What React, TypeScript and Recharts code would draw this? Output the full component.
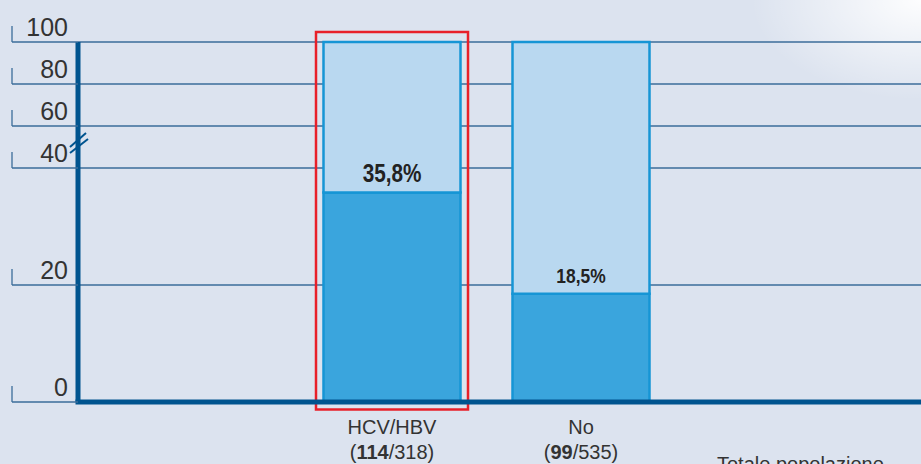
import { BarChart, Bar, XAxis, YAxis, CartesianGrid, LabelList, Rectangle } from "recharts";

const categories = ["HCV/HBV", "No"];
const positivePct = [35.8, 18.5];
const positiveCounts = [114, 99];
const groupTotals = [318, 535];
const yTickLabels = [0, 20, 40, 60, 80, 100];
const extraLabel = "Totale popolazione";

// broken axis: 0-40 linear, 40-100 squeezed
const BREAK = 40;
const SQUEEZE = 42 / 117;
const squash = (v: number) => (v <= BREAK ? v : BREAK + (v - BREAK) * SQUEEZE);
const TOP = squash(100);

const data = categories.map((name, i) => ({
  name,
  pos: squash(positivePct[i]),
  rest: TOP - squash(positivePct[i]),
  pct: positivePct[i],
  n: positiveCounts[i],
  total: groupTotals[i],
}));

const tickPositions = yTickLabels.map(squash);

const W = 921;
const H = 464;
const MARGIN_TOP = 42;
const X_AXIS_H = 62;
const Y_AXIS_W = 78;
const PLOT_BOTTOM = H - X_AXIS_H;

const BG = "#dce3ef";
const GRID = "#3b6d9a";
const AXIS = "#00548f";
const DARK = "#3aa5dd";
const LIGHT = "#b9d8f0";
const EDGE = "#1695d5";
const RED = "#e8202a";
const TEXT = "#333";
const labelSizes = [25, 21];

function YTick(props: any) {
  const { y, payload } = props;
  const idx = tickPositions.findIndex((p) => Math.abs(p - payload.value) < 1e-6);
  const label = idx >= 0 ? yTickLabels[idx] : "";
  return (
    <g>
      <line x1={12} x2={Y_AXIS_W} y1={y} y2={y} stroke={GRID} strokeWidth={1.3} />
      <line x1={12} x2={12} y1={y - 16} y2={y} stroke={GRID} strokeWidth={1.3} />
      <text
        x={68}
        y={y - 6}
        textAnchor="end"
        fontSize={25}
        fill={TEXT}
        fontFamily="Liberation Sans, Arial, sans-serif"
      >
        {label}
      </text>
      {label === BREAK && (
        <g stroke={AXIS} strokeWidth={2}>
          <line x1={70} y1={y - 21} x2={86} y2={y - 35} />
          <line x1={70} y1={y - 15} x2={88} y2={y - 29} />
        </g>
      )}
    </g>
  );
}

function XTick(props: any) {
  const { x, y, payload, index } = props;
  const d = data[index] ?? data.find((r) => r.name === payload.value);
  return (
    <g fontFamily="Liberation Sans, Arial, sans-serif" fontSize={20} fill={TEXT}>
      <text x={x} y={y + 32} textAnchor="middle">
        {payload.value}
      </text>
      {d && (
        <text x={x} y={y + 57} textAnchor="middle">
          (<tspan fontWeight="bold">{d.n}</tspan>/{d.total})
        </text>
      )}
    </g>
  );
}

function PctLabel(props: any) {
  const { x, y, width, index, value } = props;
  const size = labelSizes[index] ?? 20;
  const txt = `${String(value).replace(".", ",")}%`;
  return (
    <text
      x={x + width / 2}
      y={y - 11}
      textAnchor="middle"
      fontSize={size}
      fontWeight="bold"
      fill="#222"
      fontFamily="Liberation Sans Narrow, Liberation Sans, Arial, sans-serif"
      textLength={size * 2.35}
      lengthAdjust="spacingAndGlyphs"
    >
      {txt}
    </text>
  );
}

function TopSegment(props: any) {
  const { x, y, width, index } = props;
  return (
    <g>
      <Rectangle {...props} />
      {index === 0 && (
        <rect
          x={x - 7.5}
          y={y - 10}
          width={width + 15}
          height={PLOT_BOTTOM + 7.5 - (y - 10)}
          fill="none"
          stroke={RED}
          strokeWidth={2.5}
        />
      )}
    </g>
  );
}

export default function App() {
  return (
    <div
      style={{
        position: "fixed",
        left: 0,
        top: 0,
        width: W,
        height: H,
        overflow: "hidden",
        background: `radial-gradient(ellipse 170px 100px at 100% 0%, rgba(255,255,255,0.95), rgba(255,255,255,0) 100%), ${BG}`,
      }}
    >
      <BarChart
        width={W}
        height={H}
        data={data}
        margin={{ top: MARGIN_TOP, right: 0, bottom: 0, left: 0 }}
        barSize={137}
      >
        <CartesianGrid vertical={false} stroke={GRID} strokeWidth={1.3} />
        <XAxis
          dataKey="name"
          height={X_AXIS_H}
          padding={{ left: 219.5, right: 245.5 }}
          tickLine={false}
          tickSize={0}
          tickMargin={0}
          axisLine={{ stroke: AXIS, strokeWidth: 5, strokeLinecap: "square" }}
          tick={<XTick />}
          interval={0}
        />
        <YAxis
          width={Y_AXIS_W}
          domain={[0, TOP]}
          ticks={tickPositions}
          tickLine={false}
          tickSize={0}
          tickMargin={0}
          axisLine={{ stroke: AXIS, strokeWidth: 5 }}
          tick={<YTick />}
          interval={0}
        />
        <Bar dataKey="pos" stackId="a" fill={DARK} stroke={EDGE} strokeWidth={2.5} isAnimationActive={false}>
          <LabelList dataKey="pct" content={<PctLabel />} />
        </Bar>
        <Bar
          dataKey="rest"
          stackId="a"
          fill={LIGHT}
          stroke={EDGE}
          strokeWidth={2.5}
          shape={<TopSegment />}
          isAnimationActive={false}
        />
      </BarChart>
      <div
        style={{
          position: "absolute",
          left: 717,
          top: 454,
          fontFamily: "Liberation Sans, Arial, sans-serif",
          fontSize: 20,
          lineHeight: "20px",
          color: TEXT,
          whiteSpace: "nowrap",
        }}
      >
        {extraLabel}
      </div>
    </div>
  );
}
